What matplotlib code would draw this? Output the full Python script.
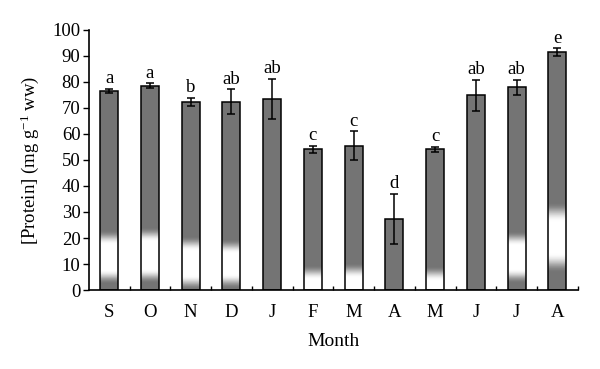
import numpy as np
import matplotlib
matplotlib.use('Agg')
import matplotlib.pyplot as plt

plt.rcParams['font.family'] = ['Liberation Serif', 'DejaVu Serif']
plt.rcParams['mathtext.fontset'] = 'custom'
plt.rcParams['mathtext.rm'] = 'Liberation Serif'
plt.rcParams['mathtext.it'] = 'Liberation Serif:italic'

# Data
months = ['S', 'O', 'N', 'D', 'J', 'F', 'M', 'A', 'M', 'J', 'J', 'A']
protein = [76.5, 78.6, 72.4, 72.4, 73.5, 54.1, 55.5, 27.4, 54.1, 74.9, 77.9, 91.4]
sem = [0.85, 0.85, 1.6, 4.8, 7.8, 1.4, 5.6, 9.6, 1.0, 6.0, 2.9, 1.6]
letters = ['a', 'a', 'b', 'ab', 'ab', 'c', 'c', 'd', 'c', 'ab', 'ab', 'e']

# white shading band in each bar (plateau low, plateau high, fade), None = plain
bands = [(7.7, 17.3, 5.5), (8, 18.5, 5.5), (5.5, 15, 5.5), (6, 14, 5.5), None,
         (-5, 4, 5.5), (-5, 4.5, 5.5), None, (-5, 3.5, 5.5), None,
         (8, 17, 5.5), (14, 26, 7.5)]

bar_grey = np.array([0.455, 0.455, 0.455])
width = 0.44

fig = plt.figure(figsize=(6, 3.69), dpi=100)
ax = fig.add_axes([0.148, 0.214, 0.815, 0.705])

x = np.arange(len(months))
ax.bar(x, protein, width=width, color=bar_grey, edgecolor='none', zorder=2)

# gradient overlay
for i, b in enumerate(bands):
    if b is None:
        continue
    lo, hi, fade = b
    top = hi + fade
    yy = np.linspace(0, top, 400)
    d_lo = np.clip((lo - yy) / fade, 0, 1)
    d_hi = np.clip((yy - hi) / fade, 0, 1)
    d = np.maximum(d_lo, d_hi)
    w = 0.5 * (1 + np.cos(np.pi * d))
    rgb = bar_grey[None, :] * (1 - w[:, None]) + w[:, None]
    img = np.repeat(rgb[:, None, :], 4, axis=1)
    ax.imshow(img, extent=(i - width / 2, i + width / 2, 0, top), origin='lower',
              aspect='auto', interpolation='nearest', zorder=2.5)

ax.bar(x, protein, width=width, color='none', edgecolor='black', linewidth=1.1, zorder=3)
ax.errorbar(x, protein, yerr=sem, fmt='none', ecolor='black', elinewidth=1.1,
            capsize=3, capthick=1.1, zorder=4)

for i in range(len(months)):
    ax.text(x[i], protein[i] + sem[i] + 0.6, letters[i], ha='center', va='bottom',
            fontsize=13.5)

ax.set_xlim(-0.5, len(months) - 0.5)
ax.set_ylim(0, 100)
ax.set_yticks(np.arange(0, 101, 10))
ax.set_xticks(np.arange(0.5, len(months), 1))
ax.set_xticklabels([])
ax.set_xticks(x, minor=True)
ax.set_xticklabels(months, minor=True)
ax.tick_params(axis='x', which='major', direction='in', length=3, width=1)
ax.tick_params(axis='x', which='minor', length=0, pad=10, labelsize=13.5)
ax.tick_params(axis='y', direction='out', length=4, width=1, labelsize=13.5, pad=2)

for s in ['top', 'right']:
    ax.spines[s].set_visible(False)
for s in ['left', 'bottom']:
    ax.spines[s].set_linewidth(1.2)

ax.set_xlabel('Month', fontsize=14, labelpad=9)
ax.set_ylabel('[Protein] (mg g$^{-1}$ ww)', fontsize=13.5, labelpad=8)

fig.savefig('out.png', dpi=100)
